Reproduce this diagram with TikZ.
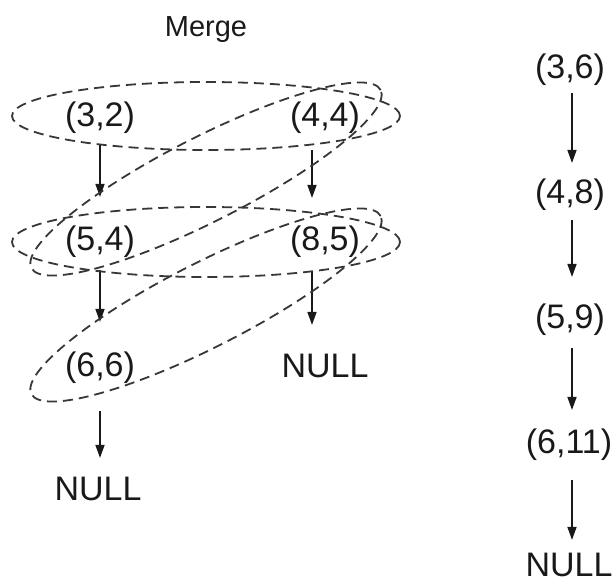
\documentclass[tikz,border=0pt]{standalone}
\usepackage{fontspec}
\setmainfont{Liberation Sans}
\usetikzlibrary{arrows.meta,calc}

\definecolor{ink}{RGB}{25,25,25}
\definecolor{loop}{RGB}{55,55,55}

\tikzset{
  pair/.style={font=\fontsize{34}{40}\selectfont, text=ink, inner sep=0pt, anchor=center},
  title/.style={font=\fontsize{29}{34}\selectfont, text=ink, inner sep=0pt},
  link/.style={draw=ink, line width=1.5pt, -{Triangle[length=13pt,width=9pt]}},
  group/.style={draw=loop, line width=1.8pt, dash pattern=on 10pt off 6pt}
}

\begin{document}
\begin{tikzpicture}[x=1pt, y=-1pt]
  \useasboundingbox (0,0) rectangle (616,583);

  % heading
  \node[title] (merge) at (206,30) {Merge};

  % first list (left column)
  \node[pair] (a1) at (100,118) {(3,2)};
  \node[pair] (a2) at (100,242) {(5,4)};
  \node[pair] (a3) at (100,368) {(6,6)};
  \node[pair] (a4) at (98,489) {NULL};

  % second list (middle column)
  \node[pair] (b1) at (325,118) {(4,4)};
  \node[pair] (b2) at (325,242) {(8,5)};
  \node[pair] (b3) at (325,366) {NULL};

  % merged list (right column)
  \node[pair] (m1) at (570,70) {(3,6)};
  \node[pair] (m2) at (570,195) {(4,8)};
  \node[pair] (m3) at (570,320) {(5,9)};
  \node[pair] (m4) at (569,445) {(6,11)};
  \node[pair] (m5) at (569,565) {NULL};

  % links of the first list
  \draw[link, shorten <=11pt, shorten >=29pt] (a1.south) -- (a2.north);
  \draw[link, shorten <=12pt, shorten >=30pt] (a2.south) -- (a3.north);
  \draw[link, shorten <=27pt, shorten >=19pt] (a3.south) -- ([xshift=2pt]a4.north);

  % links of the second list
  \draw[link, shorten <=16pt, shorten >=28pt] ([xshift=-13pt]b1.south) -- ([xshift=-13pt]b2.north);
  \draw[link, shorten <=14pt, shorten >=29pt] ([xshift=-13pt]b2.south) -- ([xshift=-13pt]b3.north);

  % links of the merged list
  \draw[link, shorten <=7pt, shorten >=16pt] ([xshift=2pt]m1.south) -- ([xshift=2pt]m2.north);
  \draw[link, shorten <=9pt, shorten >=27pt] ([xshift=2pt]m2.south) -- ([xshift=2pt]m3.north);
  \draw[link, shorten <=12pt, shorten >=19pt] ([xshift=2pt]m3.south) -- ([xshift=3pt]m4.north);
  \draw[link, shorten <=19pt, shorten >=13pt] ([xshift=3pt]m4.south) -- ([xshift=3pt]m5.north);

  % dashed loops marking the pairs compared while merging
  \coordinate (e1) at (206,116);
  \coordinate (e2) at (206,179);
  \coordinate (e3) at (206,242);
  \coordinate (e4) at (206,305);
  \draw[group] (e1) ellipse [x radius=194pt, y radius=34pt];
  \draw[group, rotate around={27:(e2)}] (e2) ellipse [x radius=196pt, y radius=42pt];
  \draw[group] (e3) ellipse [x radius=194pt, y radius=35pt];
  \draw[group, rotate around={27:(e4)}] (e4) ellipse [x radius=196pt, y radius=42pt];
\end{tikzpicture}
\end{document}
